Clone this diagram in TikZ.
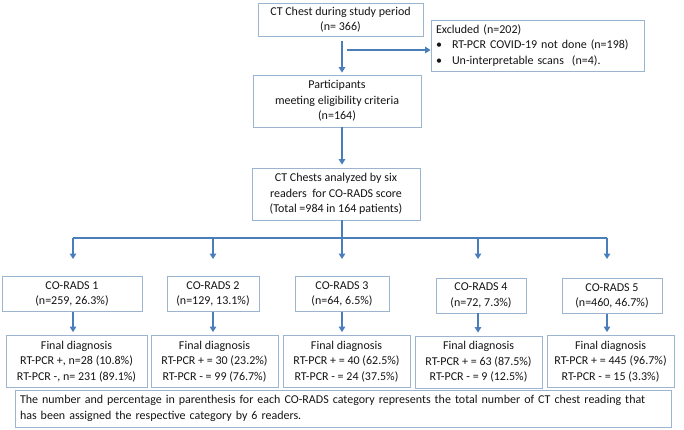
\documentclass[tikz,border=0pt]{standalone}
\usepackage{fontspec}
\setmainfont{Carlito}
\usepackage{xcolor}
\usetikzlibrary{positioning,calc,arrows.meta}

\definecolor{arrowblue}{RGB}{74,126,187}
\definecolor{boxline}{RGB}{155,180,208}
\definecolor{txt}{RGB}{20,20,20}
\newcommand{\bul}{\makebox[16pt][l]{\textbullet}}

\begin{document}
\begin{tikzpicture}[x=1pt, y=-1pt,
		font=\fontsize{12}{15.5}\selectfont,
		box/.style={draw=boxline, line width=0.8pt, align=center, inner sep=2pt, text=txt},
		catbox/.style={box, minimum height=35pt},
		finbox/.style={box, minimum width=127pt, minimum height=52pt},
		arr/.style={draw=arrowblue, line width=1.6pt, -{Triangle[width=6.5pt,length=5.5pt]}},
		link/.style={draw=arrowblue, line width=1.6pt}]
		\useasboundingbox (0,0) rectangle (684,429);

		\node[box, minimum width=165pt, minimum height=33pt] (study) at (340.5,19.5) {CT Chest during study period\\(n= 366)};
		\node[box, minimum width=213pt, minimum height=51pt, align=left, text width=203pt, inner xsep=5pt] (excl) at (537.5,45.5) {Excluded (n=202)\\\bul RT-PCR COVID-19 not done (n=198)\\\bul Un-interpretable scans~~(n=4).};
		\node[box, minimum width=168pt, minimum height=52pt] (part) at (337,101) {Participants\\meeting eligibility criteria\\(n=164)};
		\node[box, minimum width=168pt, minimum height=52pt] (read) at (336,194) {CT Chests analyzed by six\\readers~~for CO-RADS score\\(Total =984 in 164 patients)};

		\coordinate (trunk) at (342,0);
		\coordinate (split) at (347,50);
		\coordinate (bus) at (342,238);
		\coordinate (d1) at (73,259);
		\coordinate (d2) at (213,259);
		\coordinate (d3) at (342,259);
		\coordinate (d4) at (478,259);
		\coordinate (d5) at (607,259);

		\node[catbox, minimum width=140pt] (c1) at (72,294) {CO-RADS 1\\(n=259, 26.3\%)};
		\node[catbox, minimum width=92pt] (c2) at (213,294) {CO-RADS 2\\(n=129, 13.1\%)};
		\node[catbox, minimum width=94pt] (c3) at (342,294) {CO-RADS 3\\(n=64, 6.5\%)};
		\node[catbox, minimum width=90pt] (c4) at (481,295.5) {CO-RADS 4\\(n=72, 7.3\%)};
		\node[catbox, minimum width=100pt] (c5) at (612,296) {CO-RADS 5\\(n=460, 46.7\%)};

		\node[finbox, minimum width=141pt] (f1) at (76.5,361.5) {Final diagnosis\\RT-PCR +, n=28 (10.8\%)\\RT-PCR -, n= 231 (89.1\%)};
		\node[finbox] (f2) at (214.5,361.5) {Final diagnosis\\RT-PCR + = 30 (23.2\%)\\RT-PCR - = 99 (76.7\%)};
		\node[finbox] (f3) at (346.5,361.5) {Final diagnosis\\RT-PCR + = 40 (62.5\%)\\RT-PCR - = 24 (37.5\%)};
		\node[finbox] (f4) at (478.5,362) {Final diagnosis\\RT-PCR + = 63 (87.5\%)\\RT-PCR - = 9 (12.5\%)};
		\node[finbox] (f5) at (610.5,361.5) {Final diagnosis\\RT-PCR + = 445 (96.7\%)\\RT-PCR - = 15 (3.3\%)};

		\node[box, minimum width=656pt, minimum height=37pt, align=left, text width=646pt, inner xsep=5pt] (note) at (343,408.5) {The number and percentage in parenthesis for each CO-RADS category represents the total number of CT chest reading that\\has been assigned the respective category by 6 readers.};

		\draw[arr, shorten <=5pt, shorten >=2pt] (study.south -| trunk) -- (part.north -| trunk);
		\draw[arr] (split) -- (split -| excl.west);
		\draw[arr, shorten >=3pt] (part.south -| trunk) -- (read.north -| trunk);
		\draw[link] (read.south -| trunk) -- (bus);
		\draw[link] (bus -| d1) -- (bus -| d5);
		\foreach \i in {1,...,5}{
			\draw[arr] (bus -| d\i) -- (d\i);
			\draw[arr, shorten >=3pt] (c\i.south -| d\i) -- (f\i.north -| d\i);
		}
	\end{tikzpicture}
\end{document}
